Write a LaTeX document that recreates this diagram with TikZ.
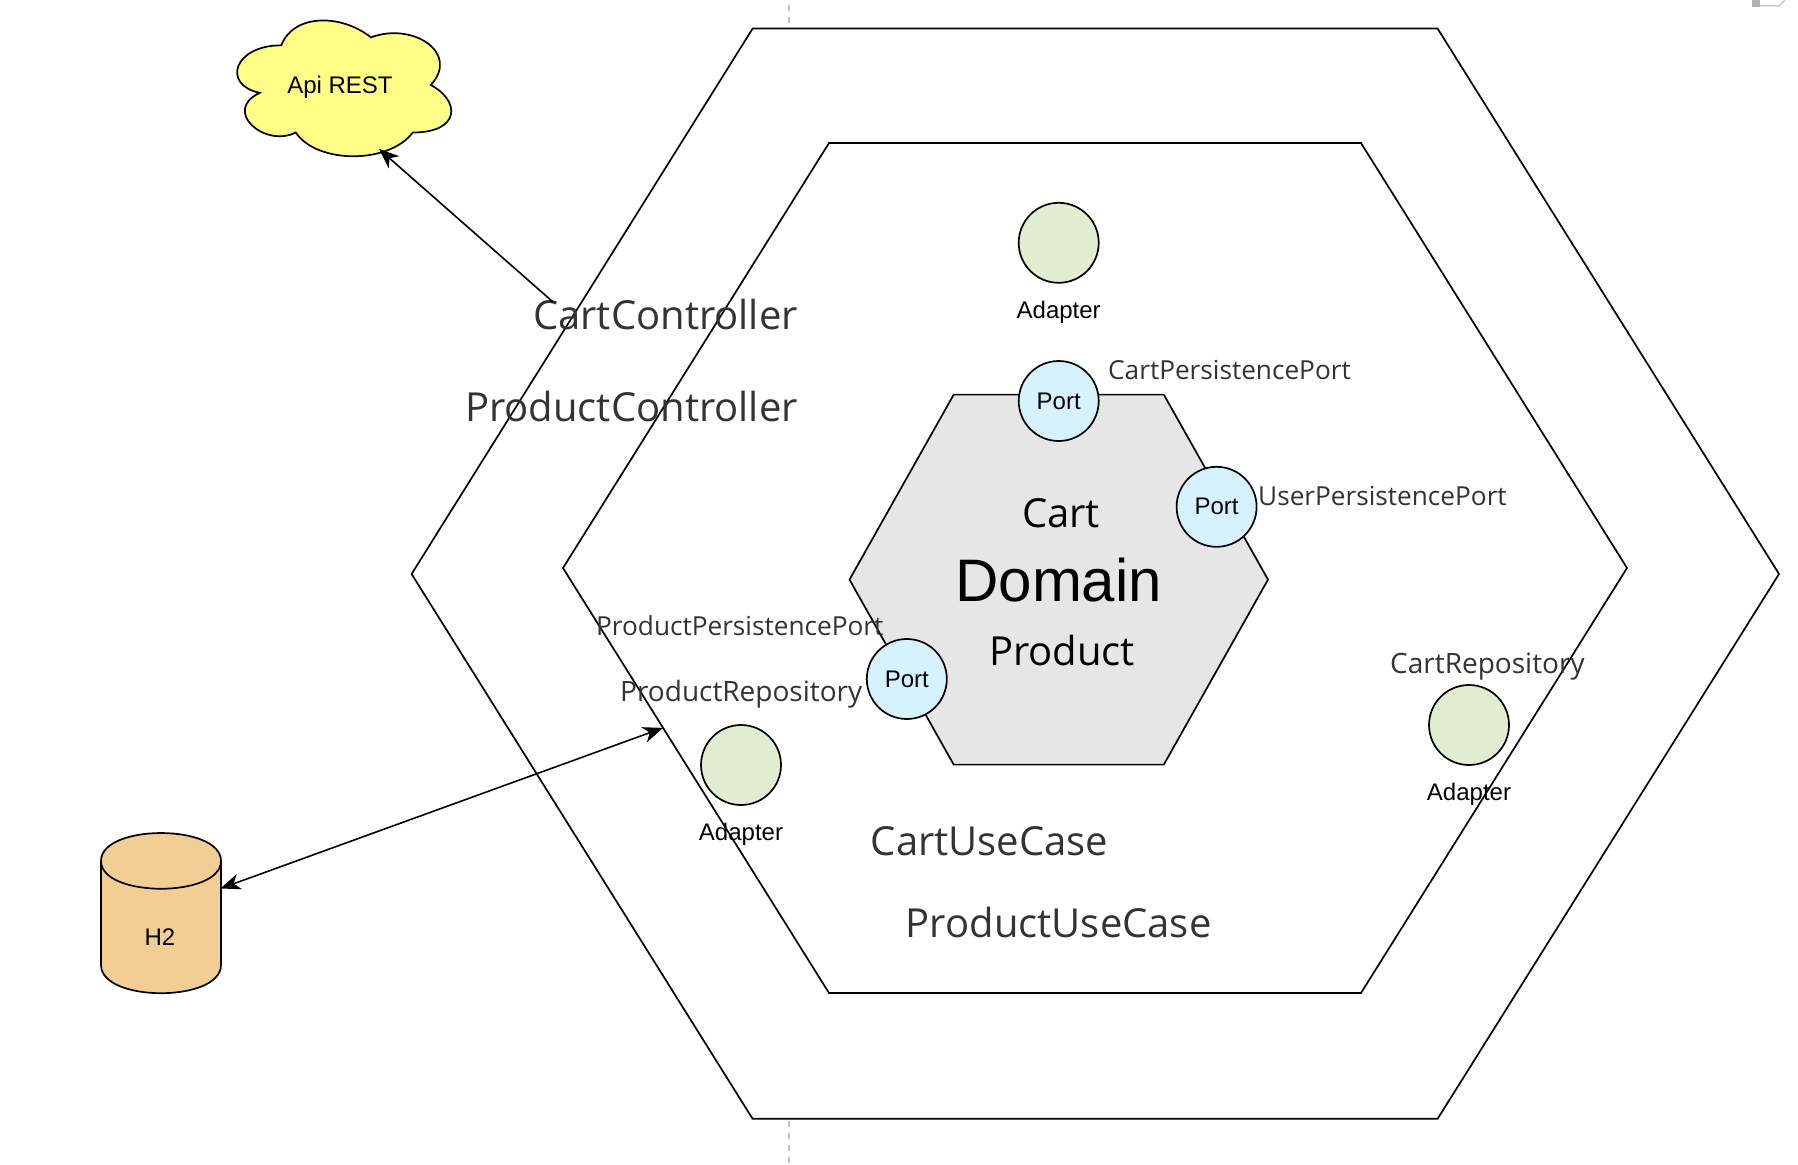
\documentclass[tikz,border=0pt]{standalone}
\usepackage{fontspec}
\setmainfont{Liberation Sans}
\newfontfamily\labelfont{Open Sans}
\definecolor{adapterfill}{HTML}{E2ECD0}
\definecolor{portfill}{HTML}{D7F2FF}
\definecolor{cloudfill}{HTML}{FFFF88}
\definecolor{dbfill}{HTML}{F3CE94}
\definecolor{domainfill}{HTML}{E6E6E6}
\definecolor{labeltext}{HTML}{333333}
\definecolor{guidegray}{HTML}{C0C0C0}
\usetikzlibrary{arrows.meta}

\tikzset{
    hexline/.style={draw=black, line width=1.7pt, line join=miter},
    guide/.style={guidegray, line width=2pt, dash pattern=on 6pt off 6pt},
    adapter/.style={circle, draw=black, line width=1.7pt, fill=adapterfill, minimum size=80pt, inner sep=0pt},
    port/.style={circle, draw=black, line width=1.7pt, fill=portfill, minimum size=80pt, inner sep=0pt, font=\fontsize{24}{28}\selectfont},
    plain/.style={inner sep=0pt, font=\fontsize{24}{28}\selectfont},
    codelabel/.style={inner sep=0pt, text=labeltext, font=\labelfont\fontsize{#1}{#1}\selectfont},
    link/.style={line width=1.6pt, -{Stealth[length=20pt,width=16pt,inset=6pt]}}
}

\begin{document}
\begin{tikzpicture}[x=1pt, y=-1pt]
    \useasboundingbox (0,0) rectangle (1798,1164);

    % Guide line behind the hexagons
    \draw[guide] (789,5) -- (789,24);
    \draw[guide] (789,1121) -- (789,1164);

    % Corner of the icon cut off at the top
    \fill[gray!60] (1752,0) rectangle (1760,7);
    \draw[gray!40, line width=1.5pt] (1760,6) -- (1779,6) -- (1785,0);

    % Hexagons
    \draw[hexline] (752.6,28.6) -- (1437.6,28.6) -- (1779,574) -- (1437.6,1118.8) -- (752.6,1118.8) -- (411.6,574) -- cycle;
    \draw[hexline] (829,143) -- (1361,143) -- (1627,568) -- (1361,993) -- (829,993) -- (563,568) -- cycle;
    \draw[hexline, fill=domainfill] (953.7,394.6) -- (1163.8,394.6) -- (1268,579.6) -- (1163.8,764.6) -- (953.7,764.6) -- (849.5,579.6) -- cycle;

    % Api REST cloud
    \begin{scope}[shift={(221.6,5.7)}, x=239pt, y=-158.5pt]
        \draw[line width=1.7pt, fill=cloudfill] (.25,.25) .. controls (.05,.25) and (0,.5) .. (.16,.55)
            .. controls (0,.66) and (.18,.9) .. (.31,.8)
            .. controls (.4,1) and (.7,1) .. (.8,.8)
            .. controls (1,.8) and (1,.6) .. (.875,.5)
            .. controls (1,.3) and (.8,.1) .. (.625,.2)
            .. controls (.5,.05) and (.3,.05) .. (.25,.25) -- cycle;
    \end{scope}
    \node[plain] (apiRest) at (340,87) {Api REST};

    % H2 cylinder
    \draw[line width=1.7pt, fill=dbfill] (101,861) .. controls (101,823.7) and (221,823.7) .. (221,861)
        -- (221,965) .. controls (221,1002.6) and (101,1002.6) .. (101,965) -- cycle;
    \draw[line width=1.7pt] (101,861) .. controls (101,898) and (221,898) .. (221,861);
    \node[plain] (dbH2) at (160,937.5) {H2};

    % Adapters and ports
    \node[adapter] (adapterTop) at (1058.7,242.8) {};
    \node[adapter] (adapterLeft) at (741,765) {};
    \node[adapter] (adapterRight) at (1469,725) {};
    \node[port] (portTop) at (1058.7,401) {Port};
    \node[port] (portRight) at (1216.6,506.8) {Port};
    \node[port] (portLeft) at (906.8,679) {Port};
    \node[plain] (adapterTopText) at (1058.7,312.3) {Adapter};
    \node[plain] (adapterLeftText) at (741,833.9) {Adapter};
    \node[plain] (adapterRightText) at (1469,793.8) {Adapter};

    % Domain texts
    \node[plain, font=\fontsize{60}{66}\selectfont] (domainText) at (1058.7,579.6) {Domain};
    \node[codelabel=40, text=black] (cartText) at (1061,513.4) {Cart};
    \node[codelabel=40, text=black] (productText) at (1062,650.7) {Product};

    % Class names
    \node[codelabel=40, anchor=east] (cartController) at (798,314) {CartController};
    \node[codelabel=40, anchor=east] (productController) at (798,406) {ProductController};
    \node[codelabel=40, anchor=west] (cartUseCase) at (870.6,841) {CartUseCase};
    \node[codelabel=40, anchor=west] (productUseCase) at (905.6,922.5) {ProductUseCase};
    \node[codelabel=26.2, anchor=west] (cartPort) at (1108,370) {CartPersistencePort};
    \node[codelabel=26.2, anchor=west] (userPort) at (1258,496) {UserPersistencePort};
    \node[codelabel=26.2, anchor=west] (productPort) at (596,625.5) {ProductPersistencePort};
    \node[codelabel=28, anchor=west] (productRepo) at (620,694) {ProductRepository};
    \node[codelabel=28, anchor=west] (cartRepo) at (1390,666.7) {CartRepository};

    % Connectors
    \coordinate (cloudTip) at (379,149);
    \coordinate (controllerEnd) at (553,302);
    \coordinate (dbTip) at (220.5,888.5);
    \coordinate (repoTip) at (663,727.9);
    \draw[link] (controllerEnd) -- (cloudTip);
    \draw[link, {Stealth[length=20pt,width=16pt,inset=6pt]}-{Stealth[length=20pt,width=16pt,inset=6pt]}] (dbTip) -- (repoTip);
\end{tikzpicture}
\end{document}
